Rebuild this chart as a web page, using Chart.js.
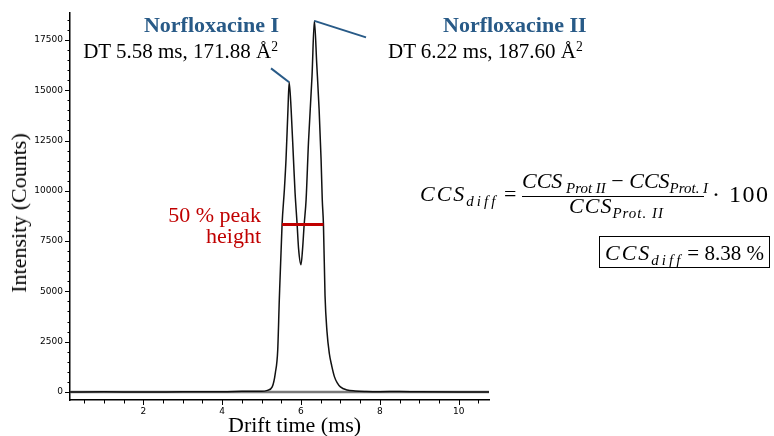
<!DOCTYPE html>
<html>
<head>
    <title>Norfloxacine drift time</title>
    <script src="https://cdn.jsdelivr.net/npm/chart.js"></script>
    <style>
        body { margin: 0; background: #fff; }
        #wrap { position: relative; width: 774px; height: 436px; overflow: hidden; }
        #myChart { position: absolute; left: 0; top: 0; }
        .ann { position: absolute; font-family: 'Liberation Serif', serif; line-height: 1; white-space: nowrap; color: #000; }
        .ann sup { font-size: 0.65em; vertical-align: 0.55em; line-height: 0; }
        .ann sub { font-size: 0.68em; vertical-align: -0.32em; line-height: 0; }
        .it { font-style: italic; font-size: 22px; }
        .up { font-style: normal; }
        .wide { letter-spacing: 2px; }
        .wide sub { letter-spacing: 3px; }
        .blue { color: #285a87; font-weight: bold; font-size: 22px; }
    </style>
</head>
<body>
<div id="wrap">
    <canvas id="myChart" width="774" height="436"></canvas>

    <div class="ann blue" style="right:495px; top:14.3px;">Norfloxacine I</div>
    <div class="ann" style="right:496px; top:40.7px; font-size:21px;">DT 5.58 ms, 171.88 Å<sup>2</sup></div>
    <div class="ann blue" style="left:443px; top:14.3px;">Norfloxacine II</div>
    <div class="ann" style="left:388px; top:41px; font-size:21px;">DT 6.22 ms, 187.60 Å<sup>2</sup></div>

    <div class="ann" style="right:513px; top:203.5px; font-size:22px; line-height:21.6px; text-align:right; color:#c00000;">50 % peak<br>height</div>

    <div class="ann" style="left:228px; top:413.9px; font-size:22px;">Drift time (ms)</div>
    <div class="ann" style="left:19.3px; top:212.5px; font-size:22px; transform:translate(-50%,-50%) rotate(-90deg);">Intensity (Counts)</div>

    <!-- formula -->
    <div class="ann it wide" style="left:420px; top:183.3px;">CCS<sub>diff</sub></div>
    <div class="ann it up" style="left:504px; top:183.3px;">=</div>
    <div class="ann it" style="left:522px; top:169.6px; width:182px; text-align:center;">CCS<sub> Prot II</sub> <span class="up">−</span> CCS<sub>Prot. I</sub></div>
    <div style="position:absolute; left:522px; top:195.5px; width:182px; height:1px; background:#000;"></div>
    <div class="ann it" style="left:525.5px; top:194.6px; width:182px; text-align:center; letter-spacing:1px;">CCS<sub>Prot. II</sub></div>
    <div class="ann up" style="left:712px; top:181.6px; font-size:24px; letter-spacing:1.5px;">· 100</div>

    <div style="position:absolute; left:599px; top:236px; width:171px; height:32px; border:1px solid #000; box-sizing:border-box;"></div>
    <div class="ann it" style="left:605px; top:241.6px;"><span class="wide">CCS<sub>diff</sub></span><span class="up" style="font-size:21px; margin-left:4px;">= 8.38 %</span></div>
</div>

<script>
    // drift time (ms) and intensity (counts)
    var driftTime = [0.14, 1.0, 2.0, 3.0, 4.0, 4.5, 4.8, 5.0, 5.15, 5.27, 5.35, 5.41, 5.45, 5.52, 5.58, 5.62, 5.67, 5.70,
                     5.75, 5.81, 5.85, 5.90, 5.94, 6.00, 6.04, 6.08, 6.13, 6.19, 6.28, 6.34,
                     6.40, 6.46, 6.51, 6.54, 6.57, 6.61, 6.66, 6.72, 6.78, 6.85, 6.92, 7.00, 7.17, 7.37, 7.65,
                     8.0, 8.5, 9.0, 10.0, 10.77];
    var intensity = [0, 5, 0, 5, 10, 30, 40, 30, 80, 250, 950, 2090, 4580, 8320, 10100, 11550, 14050, 15400,
                     14050, 11550, 9900, 8400, 7100, 6320, 7100, 8300, 9560, 12400, 15700, 18450,
                     16300, 14050, 11550, 9560, 8320, 4800, 3000, 1900, 1300, 750, 450, 250, 100, 50, 25,
                     15, 20, 5, 0, 0];

    // zero line across the full range
    var baseX = [0.14, 10.77];
    var baseY = [0, 0];

    // 50 % peak height marker
    var halfX = [5.52, 6.57];
    var halfY = [8320, 8320];

    // leader lines to the two peak labels
    var leadIX = [5.24, 5.70];
    var leadIY = [16085, 15400];
    var leadIIX = [6.34, 7.65];
    var leadIIY = [18450, 17630];

    var xTicks = [2, 4, 6, 8, 10];
    var yTicks = [0, 2500, 5000, 7500, 10000, 12500, 15000, 17500];

    function pts(xs, ys) {
        return xs.map(function (v, i) { return { x: v, y: ys[i] }; });
    }

    // short minor tick marks, longer ones at the labelled values
    var minorTicks = {
        id: 'minorTicks',
        afterDraw: function (chart) {
            var ctx = chart.ctx, x = chart.scales.x, y = chart.scales.y, a = chart.chartArea;
            ctx.save();
            ctx.strokeStyle = '#000';
            ctx.lineWidth = 1;
            for (var v = Math.ceil(x.min / 0.5) * 0.5; v <= x.max; v += 0.5) {
                var px = Math.round(x.getPixelForValue(v)) + 0.5;
                var len = (v % 2 === 0) ? 5 : 3.5;
                ctx.beginPath(); ctx.moveTo(px, a.bottom); ctx.lineTo(px, a.bottom + len); ctx.stroke();
            }
            for (var w = Math.max(0, Math.ceil(y.min / 500) * 500); w <= y.max; w += 500) {
                var py = Math.round(y.getPixelForValue(w)) + 0.5;
                var l2 = (w % 2500 === 0) ? 5 : 2.5;
                ctx.beginPath(); ctx.moveTo(a.left, py); ctx.lineTo(a.left - l2, py); ctx.stroke();
            }
            ctx.restore();
        }
    };

    var ctx = document.getElementById('myChart').getContext('2d');
    var myChart = new Chart(ctx, {
        type: 'line',
        data: {
            datasets: [
                { data: pts(halfX, halfY), borderColor: '#c00000', borderWidth: 3 },
                { data: pts(leadIX, leadIY), borderColor: '#285a87', borderWidth: 2 },
                { data: pts(leadIIX, leadIIY), borderColor: '#285a87', borderWidth: 2 },
                { data: pts(driftTime, intensity), borderColor: '#111', borderWidth: 1.5, cubicInterpolationMode: 'monotone' },
                { data: pts(baseX, baseY), borderColor: '#7a7a7a', borderWidth: 2.5 }
            ]
        },
        options: {
            responsive: false,
            animation: false,
            elements: { point: { radius: 0 }, line: { tension: 0 } },
            layout: { padding: { top: 13, right: 285, left: 0, bottom: 0 } },
            plugins: { legend: { display: false }, tooltip: { enabled: false } },
            scales: {
                x: {
                    type: 'linear', min: 0.14, max: 10.77,
                    afterFit: function (s) { s.height = 36; },
                    afterBuildTicks: function (s) { s.ticks = xTicks.map(function (v) { return { value: v }; }); },
                    grid: { display: false, drawTicks: false },
                    border: { display: true, color: '#000', width: 1.5 },
                    ticks: { font: { family: 'DejaVu Sans', size: 9 }, color: '#000', padding: 6, maxRotation: 0, autoSkip: false }
                },
                y: {
                    type: 'linear', min: -400, max: 18840,
                    afterFit: function (s) { s.width = 70; },
                    afterBuildTicks: function (s) { s.ticks = yTicks.map(function (v) { return { value: v }; }); },
                    grid: { display: false, drawTicks: false },
                    border: { display: true, color: '#000', width: 1.5 },
                    ticks: { font: { family: 'DejaVu Sans', size: 9 }, color: '#000', padding: 7, autoSkip: false,
                             callback: function (v) { return String(v); } }
                }
            }
        },
        plugins: [minorTicks]
    });
</script>
</body>
</html>
